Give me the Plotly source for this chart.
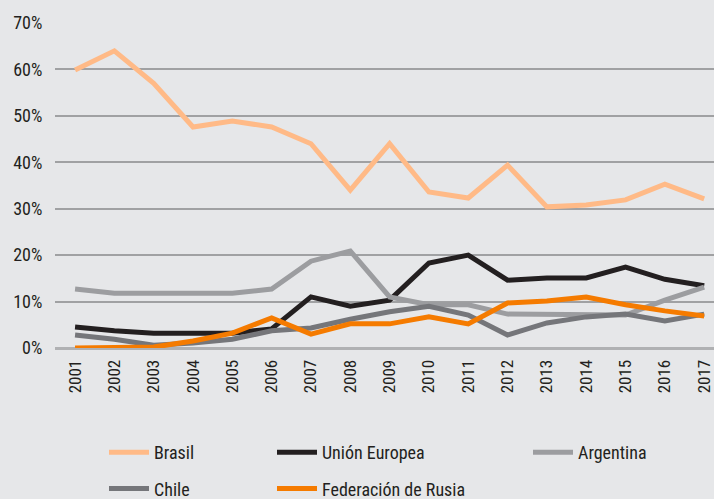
import plotly.graph_objects as go

years = list(range(2001, 2018))
brasil = [59.9, 64.0, 57.0, 47.6, 48.9, 47.6, 44.0, 34.0, 44.0, 33.6, 32.3, 39.4, 30.4, 30.8, 31.9, 35.3, 32.1]
union_europea = [4.5, 3.7, 3.2, 3.2, 3.2, 4.1, 11.0, 9.0, 10.3, 18.3, 20.0, 14.6, 15.1, 15.1, 17.4, 14.8, 13.4]
argentina = [12.7, 11.8, 11.8, 11.8, 11.8, 12.7, 18.7, 20.9, 11.0, 9.3, 9.3, 7.3, 7.3, 7.1, 7.1, 10.3, 13.1]
chile = [2.8, 1.9, 0.6, 1.1, 1.9, 3.7, 4.3, 6.2, 7.8, 9.0, 7.1, 2.8, 5.4, 6.7, 7.3, 5.8, 7.3]
rusia = [0.0, 0.0, 0.2, 1.5, 3.2, 6.5, 3.0, 5.2, 5.2, 6.7, 5.2, 9.7, 10.1, 11.0, 9.3, 8.0, 6.9]

y_ticks = [0, 10, 20, 30, 40, 50, 60, 70]
y_labels = [f"{v}%" for v in y_ticks]

FONT = "Roboto Condensed, Liberation Sans Narrow, Roboto, sans-serif"
TXT = "#231f20"

series = [
    ("Brasil", brasil, "#ffba87", "legend"),
    ("Unión Europea", union_europea, "#231f20", "legend2"),
    ("Argentina", argentina, "#9c9da0", "legend3"),
    ("Chile", chile, "#75767a", "legend"),
    ("Federación de Rusia", rusia, "#f57b00", "legend2"),
]

fig = go.Figure()
for i, (name, vals, col, lg) in enumerate(series):
    fig.add_trace(go.Scatter(
        x=years, y=vals, name=name, mode="lines",
        line=dict(color=col, width=5),
        legend=lg, legendgroup=name,
    ))

L, R, T, B = 55, 0, 23, 151
W, H = 714, 499
pw, ph = W - L - R, H - T - B


def px_x(px):
    return (px - L) / pw


def px_y(py):
    return (H - B - py) / ph


leg_common = dict(
    orientation="v", xanchor="left",
    yanchor="top", bgcolor="rgba(0,0,0,0)",
    font=dict(family=FONT, size=18, color=TXT),
    traceorder="grouped", tracegroupgap=10, itemwidth=40,
)
bg = "#e6e7e9"
fig.update_layout(
    width=W, height=H,
    paper_bgcolor=bg, plot_bgcolor=bg,
    margin=dict(l=L, r=R, t=T, b=B, autoexpand=False),
    font=dict(family=FONT, color=TXT),
    legend=dict(x=px_x(104), y=px_y(434), **leg_common),
    legend2=dict(x=px_x(272), y=px_y(434), **leg_common),
    legend3=dict(x=px_x(528), y=px_y(434), **leg_common),
    xaxis=dict(
        range=[2000.49, 2017.25], tickmode="array", tickvals=years,
        ticktext=[str(y) for y in years], tickangle=-90,
        showgrid=False, zeroline=False, showline=False,
        tickfont=dict(family=FONT, size=17, color=TXT),
        ticks="outside", ticklen=4, tickcolor="rgba(0,0,0,0)",
    ),
    yaxis=dict(
        range=[0, 70], tickmode="array", tickvals=y_ticks, ticktext=y_labels,
        showgrid=True, gridcolor="#a0a1a3", gridwidth=1.5,
        zeroline=True, zerolinecolor="#b0b1b3", zerolinewidth=2.5,
        showline=False,
        tickfont=dict(family=FONT, size=18, color=TXT),
        ticks="outside", ticklen=8, tickcolor="rgba(0,0,0,0)",
    ),
)

fig.write_html(
    "out.html",
    config={"displayModeBar": False},
    post_script="document.body.style.margin='0';document.body.style.background='#e6e7e9';document.body.style.overflow='hidden';",
)
